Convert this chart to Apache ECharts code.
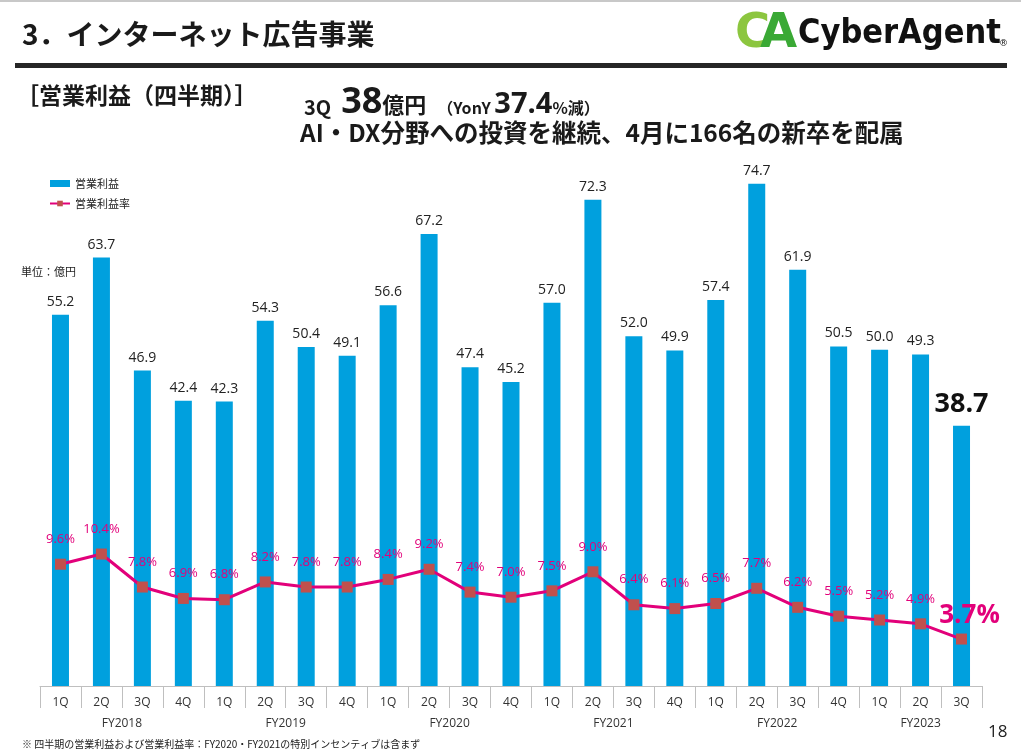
<!DOCTYPE html>
<html>
<head>
<meta charset="utf-8">
<script src="https://cdn.jsdelivr.net/npm/echarts@6/dist/echarts.min.js"></script>
<style>
  html, body { margin: 0; padding: 0; background: #fff; }
  #main { width: 1021px; height: 756px; }
</style>
</head>
<body>
<div id="main"></div>
<script>
// 四半期ラベル
const quarters = ['1Q', '2Q', '3Q', '4Q', '1Q', '2Q', '3Q', '4Q', '1Q', '2Q', '3Q', '4Q',
  '1Q', '2Q', '3Q', '4Q', '1Q', '2Q', '3Q', '4Q', '1Q', '2Q', '3Q'];
const fiscalYears = ['FY2018', 'FY2019', 'FY2020', 'FY2021', 'FY2022', 'FY2023'];
const quartersPerYear = [4, 4, 4, 4, 4, 3];
// 営業利益（億円）
const operatingProfit = [55.2, 63.7, 46.9, 42.4, 42.3, 54.3, 50.4, 49.1, 56.6, 67.2, 47.4, 45.2,
  57.0, 72.3, 52.0, 49.9, 57.4, 74.7, 61.9, 50.5, 50.0, 49.3, 38.7];
// 営業利益率（%）
const operatingMargin = [9.6, 10.4, 7.8, 6.9, 6.8, 8.2, 7.8, 7.8, 8.4, 9.2, 7.4, 7.0,
  7.5, 9.0, 6.4, 6.1, 6.5, 7.7, 6.2, 5.5, 5.2, 4.9, 3.7];

const JP = '"Noto Sans CJK JP", "Noto Sans", sans-serif';
const NUM = '"Open Sans", "Noto Sans", sans-serif';

// 年度グループの中心と境界
const yearStarts = [];
let cursor = 0;
quartersPerYear.forEach(n => { yearStarts.push(cursor); cursor += n; });
const yearCenters = yearStarts.map((st, i) => st + (quartersPerYear[i] - 1) / 2);
const yearBounds = yearStarts.map(st => st - 0.5).concat([cursor - 0.5]);

const lastIdx = operatingProfit.length - 1;

const chart = echarts.init(document.getElementById('main'));

const dark = '#1a1a1a';

chart.setOption({
  animation: false,
  backgroundColor: '#fff',
  textStyle: { fontFamily: JP },
  title: [
    {
      text: '{a|3Q}{sp| }{b|38}{c|億円}{d|   （YonY }{e|37.4}{d|%減）}',
      left: 299, top: 80,
      textStyle: {
        rich: {
          sp: { fontSize: 20, width: 10 },
          a: { fontFamily: JP, fontSize: 20, fontWeight: 'bold', color: dark, verticalAlign: 'bottom', padding: [0, 0, 4, 0] },
          b: { fontFamily: NUM, fontSize: 36, fontWeight: 'bold', color: dark, verticalAlign: 'bottom' },
          c: { fontFamily: JP, fontSize: 22, fontWeight: 'bold', color: dark, verticalAlign: 'bottom', padding: [0, 0, 5, 0] },
          d: { fontFamily: JP, fontSize: 16, fontWeight: 'bold', color: dark, verticalAlign: 'bottom', padding: [0, 0, 5, 0] },
          e: { fontFamily: NUM, fontSize: 29, fontWeight: 'bold', color: dark, verticalAlign: 'bottom', padding: [0, 0, 2, 0] }
        }
      }
    },
    {
      text: 'AI・DX分野への投資を継続、4月に166名の新卒を配属',
      left: 295, top: 115,
      textStyle: { fontFamily: JP, fontSize: 24.5, fontWeight: 'bold', color: dark }
    },
    {
      text: '単位：億円',
      left: 16, top: 261,
      textStyle: { fontFamily: JP, fontSize: 11, fontWeight: 'normal', color: '#222' }
    }
  ],
  graphic: [
    { type: 'rect', left: 0, top: 0, shape: { width: 1021, height: 2 }, style: { fill: '#c8c8c8' } },
    { type: 'rect', left: 15, top: 63, shape: { width: 992, height: 5 }, style: { fill: '#262626' } },
    {
      type: 'text', left: 22, top: 20,
      style: { text: '3．インターネット広告事業', font: 'bold 28px "Noto Sans CJK JP"', fill: dark }
    },
    {
      type: 'text', left: 16, top: 84,
      style: { text: '［営業利益（四半期）］', font: 'bold 23px "Noto Sans CJK JP"', fill: dark }
    },
    {
      type: 'text', left: 735, top: 11,
      style: { text: 'C', font: 'bold 48px "DejaVu Sans"', fill: '#8cc63f' }
    },
    {
      type: 'text', left: 760, top: 11,
      style: { text: 'A', font: 'bold 48px "DejaVu Sans"', fill: '#3aa935' }
    },
    {
      type: 'text', left: 798, top: 17,
      style: { text: 'CyberAgent', font: 'bold 34px "DejaVu Sans Condensed"', fill: '#111' }
    },
    {
      type: 'text', left: 999, top: 39,
      style: { text: '®', font: '9px "DejaVu Sans"', fill: '#111' }
    },
    {
      type: 'text', left: 22, top: 739,
      style: { text: '※ 四半期の営業利益および営業利益率：FY2020・FY2021の特別インセンティブは含まず', font: '10px "Noto Sans CJK JP"', fill: dark }
    },
    {
      type: 'text', left: 988, top: 724,
      style: { text: '18', font: '17px "Open Sans"', fill: '#222' }
    }
  ],
  legend: {
    orient: 'vertical',
    left: 44, top: 173,
    itemWidth: 20, itemHeight: 7,
    itemGap: 9,
    textStyle: { fontFamily: JP, fontSize: 11, color: '#222' },
    data: [
      { name: '営業利益', icon: 'rect' },
      { name: '営業利益率' }
    ]
  },
  grid: { left: 40, right: 39, top: 148, bottom: 70, containLabel: false },
  xAxis: [
    {
      type: 'category',
      data: quarters,
      boundaryGap: true,
      axisLine: { show: true, lineStyle: { color: '#bfbfbf', width: 1 } },
      axisTick: { show: true, interval: 0, length: 22, lineStyle: { color: '#bfbfbf' } },
      axisLabel: { interval: 0, margin: 11, fontFamily: NUM, fontSize: 12, color: '#333' },
      splitLine: { show: false }
    },
    {
      type: 'value',
      min: -0.5,
      max: quarters.length - 0.5,
      position: 'bottom',
      offset: 22,
      axisLine: { show: false },
      splitLine: { show: false },
      axisTick: { show: true, length: 22, customValues: yearBounds, lineStyle: { color: '#bfbfbf' } },
      axisLabel: {
        customValues: yearCenters,
        margin: 10,
        fontFamily: NUM, fontSize: 12, color: '#333',
        formatter: v => {
          const i = yearCenters.findIndex(c => Math.abs(c - v) < 1e-6);
          return i >= 0 ? fiscalYears[i] : '';
        }
      }
    }
  ],
  yAxis: [
    { type: 'value', min: 0, max: 80, show: false, splitLine: { show: false } },
    { type: 'value', min: 0, max: 42.4, show: false, splitLine: { show: false } }
  ],
  series: [
    {
      name: '営業利益',
      type: 'bar',
      xAxisIndex: 0,
      yAxisIndex: 0,
      barWidth: 17,
      itemStyle: { color: '#00a0de' },
      label: {
        show: true, position: 'top', distance: 6,
        fontFamily: NUM, fontSize: 14, color: '#222',
        formatter: p => p.value.toFixed(1)
      },
      data: operatingProfit.map((v, i) => i === lastIdx
        ? { value: v, label: { fontSize: 27, fontWeight: 'bold', color: '#111', distance: 8 } }
        : v)
    },
    {
      name: '営業利益率',
      type: 'line',
      xAxisIndex: 0,
      yAxisIndex: 1,
      symbol: 'rect',
      symbolSize: 11,
      lineStyle: { color: '#e2007a', width: 3 },
      itemStyle: { color: '#c0504d' },
      label: {
        show: true, position: 'top', distance: 13,
        fontFamily: NUM, fontSize: 13, color: '#e2007a',
        formatter: p => p.value.toFixed(1) + '%'
      },
      z: 5,
      data: operatingMargin.map((v, i) => i === lastIdx
        ? { value: v, label: { fontSize: 26, fontWeight: 'bold', distance: 5, offset: [8, 0] } }
        : v)
    }
  ]
});
</script>
</body>
</html>
